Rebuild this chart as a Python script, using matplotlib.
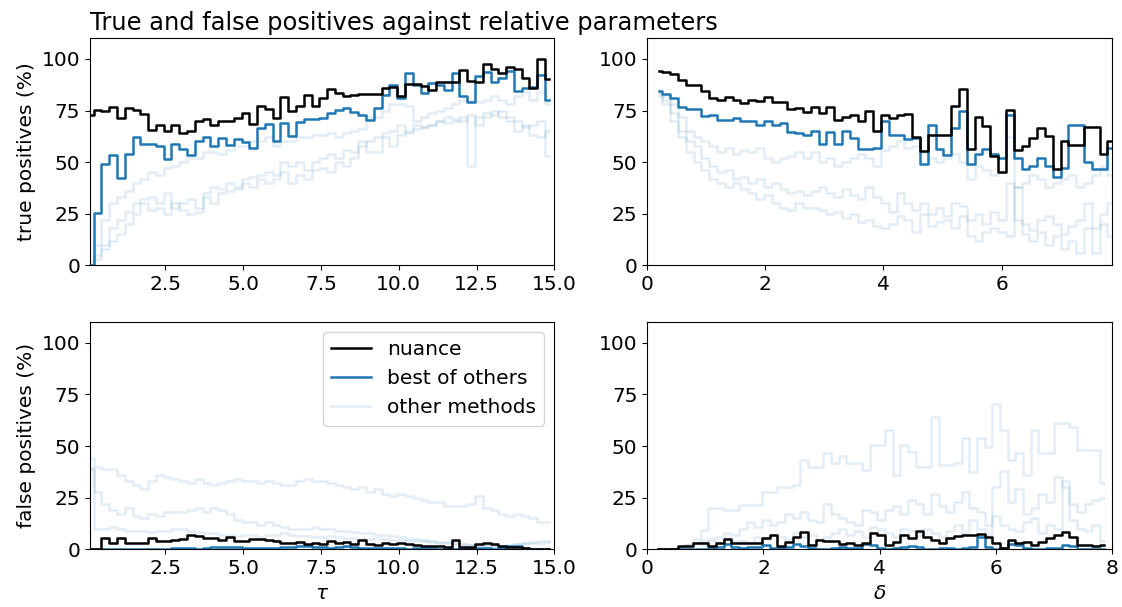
import numpy as np
import matplotlib
matplotlib.use("Agg")
import matplotlib.pyplot as plt

plt.rcParams['font.size'] = 14.5

# bin centres
tau = np.linspace(0.075, 14.825, 60)
delta = np.linspace(0.19, 7.86, 59)

# true positives vs tau (%)
tp_tau_nuance = [72.7, 75.4, 75, 76.6, 71.4, 76.2, 75.4, 73.4, 65.8, 67.9,
                 65.3, 67.9, 64.2, 65, 69.8, 70.8, 68.2, 69.8, 70.1, 71.4,
                 73.8, 68.5, 77, 75.9, 71.4, 81.4, 74.6, 77, 82.3, 77,
                 81, 85.6, 83.5, 81.9, 82.3, 83, 83, 83, 85.8, 86.3,
                 81.8, 88, 87.9, 87, 85, 88.6, 88.6, 89, 94.4, 89.5,
                 89, 97.6, 95, 93, 96, 95, 90.7, 85.8, 100, 90.2]
tp_tau_best = [0, 25.2, 49, 53.5, 42.5, 54, 62.1, 58.9, 58.6, 57.8,
               51.4, 58.9, 56.2, 53.5, 60.2, 62.1, 57.8, 61.5, 58.3, 61,
               59.9, 56.7, 66.6, 68.5, 60.2, 69, 62.6, 69.5, 71.1, 71.1,
               71.4, 73.8, 75.4, 76.2, 74.3, 73, 70.6, 76.2, 82.7, 87.5,
               81, 93, 87.5, 83.5, 88.3, 87.5, 85, 93, 81.9, 79,
               91.5, 93.6, 89, 90.7, 93.9, 84.3, 86, 86.2, 92.3, 80.3]
tp_tau_others = [
    [2, 10, 22, 30, 33, 36, 40, 42, 45, 44,
     47, 48, 50, 52, 52, 55, 55, 54, 56, 58,
     58, 60, 60, 62, 58, 60, 60, 62, 62, 63,
     63, 64, 62, 64, 65, 66, 72, 72, 75, 78,
     78, 77, 70, 72, 74, 75, 76, 78, 80, 80,
     79, 80, 82, 80, 78, 82, 84, 80, 84, 78],
    [0, 5, 10, 18, 22, 26, 30, 32, 33, 30,
     35, 28, 30, 32, 28, 35, 38, 37, 40, 38,
     42, 43, 44, 45, 44, 50, 48, 50, 46, 50,
     52, 54, 52, 56, 55, 58, 60, 62, 64, 65,
     68, 64, 66, 67, 68, 70, 69, 70, 72, 48,
     72, 74, 73, 75, 72, 70, 67, 68, 70, 53],
    [0, 3, 8, 12, 15, 20, 25, 30, 27, 28,
     25, 30, 27, 25, 26, 33, 30, 35, 36, 37,
     40, 38, 42, 40, 42, 45, 40, 44, 42, 46,
     47, 45, 50, 48, 52, 60, 55, 55, 62, 58,
     63, 65, 68, 67, 68, 70, 72, 71, 70, 73,
     68, 72, 75, 72, 70, 65, 68, 63, 62, 65],
]

# true positives vs delta (%)
tp_delta_nuance = [93.9, 93.6, 92.6, 90, 87.5, 87.2, 84.3, 81, 80.3, 81.4,
                   80.3, 78.7, 80.3, 79.5, 81.4, 79.1, 79.1, 75.9, 76.2, 74.3,
                   76.6, 73.8, 76.6, 70.6, 71.7, 72.7, 70.1, 75, 65, 73,
                   71.4, 72.7, 73.5, 62, 55.4, 63.1, 63.1, 63.1, 77, 85.6,
                   56.2, 71.7, 67.4, 53, 45, 75.4, 55.7, 57.8, 61.8, 66.6,
                   62.6, 46.5, 60.2, 58.3, 58.3, 66.9, 66.9, 53.8, 60.2]
tp_delta_best = [84.6, 83, 81, 76.6, 75.9, 75.9, 72.2, 73, 70.6, 70.6,
                 71.4, 70.1, 70.1, 67.9, 70.1, 67.9, 69, 64.7, 64.2, 63,
                 65.2, 58.9, 64.7, 58.9, 64.9, 61.8, 56.2, 56.2, 57, 69.8,
                 63, 63, 61, 61.8, 49.3, 68.2, 56.2, 53.5, 66.6, 74.9,
                 48.9, 53.8, 56.2, 53.8, 52.2, 73, 52.2, 46.5, 48.2, 52.2,
                 48.2, 42.9, 47, 67.9, 67.9, 50, 46.5, 46.5, 57]
tp_delta_others = [
    [84, 82, 78, 72, 65, 62, 60, 58, 55, 57,
     54, 56, 55, 57, 52, 50, 52, 53, 55, 52,
     55, 50, 52, 48, 50, 52, 54, 52, 48, 56,
     58, 60, 57, 58, 55, 52, 50, 52, 54, 50,
     42, 48, 46, 44, 45, 62, 38, 40, 44, 42,
     38, 40, 42, 44, 38, 40, 44, 48, 44],
    [83, 80, 74, 65, 60, 58, 52, 48, 45, 46,
     42, 43, 40, 42, 38, 40, 37, 35, 36, 34,
     36, 38, 35, 33, 37, 34, 32, 38, 33, 30,
     26, 35, 30, 27, 30, 25, 28, 24, 30, 29,
     22, 25, 20, 26, 22, 40, 22, 20, 17, 22,
     24, 20, 15, 19, 22, 30, 18, 25, 30],
    [82, 78, 70, 62, 55, 50, 46, 42, 40, 38,
     40, 37, 35, 32, 34, 30, 28, 27, 30, 28,
     28, 27, 25, 26, 23, 25, 21, 22, 19, 18,
     20, 24, 22, 16, 25, 19, 21, 22, 18, 24,
     14, 12, 16, 18, 16, 14, 38, 15, 12, 16,
     10, 14, 8, 12, 6, 18, 6, 20, 14],
]

# false positives vs tau (%)
fp_tau_nuance = [0, 0, 5.3, 3, 5.3, 3, 3, 3, 5.6, 4,
                 4, 4.5, 5, 7, 6.5, 5.6, 5.6, 4.5, 6, 4,
                 4, 5, 5, 4.5, 4, 3.2, 3.2, 3.5, 2.5, 3,
                 2.5, 4, 3, 3.5, 2.5, 4.5, 2.5, 2, 3, 2.5,
                 3, 2.5, 2, 1.8, 1.5, 1.5, 1.2, 4.5, 1.3, 1.3,
                 2.8, 3.2, 2.5, 1.5, 1.2, 1, 0.8, 0, 0, 0]
fp_tau_best = [0, 0, 0, 0, 0, 0, 0, 0, 0, 0.3,
               0.3, 0.5, 0.5, 0.5, 0.3, 0.5, 1, 1, 1, 1,
               0.8, 0.5, 0.5, 0.5, 0.8, 1, 1.2, 1.5, 1.5, 1.2,
               1, 0.8, 1.2, 1.5, 1, 0.8, 0.5, 0.5, 0.8, 0.5,
               0.5, 0.3, 0.5, 0.8, 0.5, 0.3, 0.5, 0.3, 0.5, 0.5,
               0.8, 0.5, 0.3, 0.5, 1.5, 1.5, 0.8, 0, 0, 0]
fp_tau_others = [
    [44, 40, 39, 39, 36, 33, 31, 29, 33, 36,
     35, 34, 33, 32, 34, 32, 31, 32, 33, 34,
     33, 33, 32, 33, 32, 31, 31, 33, 34, 33,
     33, 32, 31, 30, 29, 30, 28, 29, 27, 26,
     27, 26, 25, 24, 23, 23, 21, 21, 21, 22,
     26, 20, 19, 17, 16, 17, 16, 15, 13, 13],
    [39, 28, 22, 19, 17, 20, 16, 15, 17, 16,
     18, 18, 18, 19, 20, 18, 20, 19, 17, 14,
     13, 13, 12, 13, 12, 11, 10, 10, 10, 11,
     10, 10, 9, 9, 8.5, 8, 8, 7, 7, 6.5,
     6, 5, 5, 4.5, 4, 3.7, 3.5, 3, 2.5, 2,
     2, 1.5, 1.3, 1.2, 1.3, 2.5, 3, 3, 3, 3.5],
    [39, 10, 10, 11, 10, 9, 9, 9, 8.5, 9,
     9, 10, 10, 9, 8.5, 8, 8, 7, 7, 6.5,
     7, 7, 6, 7, 7, 8, 7, 6.5, 6.5, 6,
     6, 6.5, 6, 5.5, 5.5, 5, 5, 5.3, 5, 4.5,
     4.5, 4, 4, 3.8, 3.5, 3.3, 3, 2.5, 2.5, 2,
     2, 2, 1.5, 1.5, 2, 2.5, 3, 3.5, 4, 4],
]

# false positives vs delta (%)
fp_delta_nuance = [0, 0, 0, 1.8, 1.8, 2.9, 2.9, 1.6, 3.2, 5,
                   3, 3, 3.3, 3.3, 5.6, 7, 1.6, 3.7, 6, 8.5,
                   2, 4.5, 4, 4, 2.5, 3.2, 2, 2.9, 7.7, 7,
                   2, 3.7, 7, 5.3, 8.9, 6, 4.5, 2.9, 5.3, 6.5,
                   7, 7, 7.5, 6, 3, 0.5, 4.5, 3, 3.7, 2,
                   3.7, 5.3, 7, 8.5, 6, 2, 2, 1.8, 2]
fp_delta_best = [0, 0, 0, 0, 0, 0, 0, 0.5, 1, 2.5,
                 1, 0.5, 1, 1, 2, 0.5, 0.5, 1, 2.5, 1.5,
                 0.5, 0, 0, 0.5, 1, 0.5, 0.5, 2.5, 2, 0.5,
                 0, 0.5, 1, 1.5, 1, 0, 0, 0.5, 0.5, 0,
                 0.5, 1, 6, 1, 0, 0.5, 2.5, 2, 0.5, 0,
                 0, 0.5, 0.5, 2, 1.5, 0, 0, 0, 0]
fp_delta_others = [
    [0, 0, 0.5, 1, 2, 5, 9.4, 19.8, 19.8, 19,
     19, 21.5, 21.5, 21.5, 28, 28, 30.3, 30.3, 31, 43.2,
     40, 40, 46.5, 42, 45, 42, 42, 38.4, 50.5, 50.5,
     57.7, 36, 50.5, 47, 40, 40, 64, 40.8, 40.8, 42,
     53.7, 37.6, 53.7, 49.7, 70.6, 57.7, 43.5, 46.5, 36, 57.7,
     46.5, 46.5, 61, 61, 59, 48, 48, 48, 32],
    [0, 0, 0, 1, 2, 3, 4, 5, 6, 8,
     7, 10, 13, 11, 14, 12, 13, 17, 15, 18,
     14, 13, 22, 17, 15, 13, 12, 19, 18, 14,
     19, 21, 17, 24, 22, 17, 27, 21, 18, 23,
     28, 20, 18, 12, 30, 38, 23, 29, 17, 20,
     27, 23, 35, 30, 22, 18, 22, 24, 25],
    [0, 0, 0, 0.5, 1, 3, 2, 4, 3, 5,
     4, 4, 3, 6, 5, 7, 6, 5, 8, 6,
     7, 5, 6, 8, 10, 7, 9, 6, 11, 10,
     8, 6, 10, 9, 7, 10, 8, 6, 9, 12,
     8, 14, 10, 7, 16, 12, 10, 9, 13, 15,
     8, 12, 10, 33, 14, 10, 9, 12, 4],
]

blue = '#1f77b4'
lw = 1.8

fig, axes = plt.subplots(2, 2, figsize=(11.22, 6.07), dpi=100)
fig.subplots_adjust(left=0.08, right=0.991, bottom=0.095, top=0.937,
                    wspace=0.2, hspace=0.25)

panels = [
    (axes[0, 0], tau, tp_tau_nuance, tp_tau_best, tp_tau_others),
    (axes[0, 1], delta, tp_delta_nuance, tp_delta_best, tp_delta_others),
    (axes[1, 0], tau, fp_tau_nuance, fp_tau_best, fp_tau_others),
    (axes[1, 1], delta, fp_delta_nuance, fp_delta_best, fp_delta_others),
]

for ax, x, nuance, best, others in panels:
    for j, o in enumerate(others):
        ax.step(x, o, where='mid', color=blue, alpha=0.13, lw=lw,
                label='other methods' if j == 0 else None)
    ax.step(x, best, where='mid', color=blue, lw=lw, label='best of others')
    ax.step(x, nuance, where='mid', color='black', lw=lw, label='nuance')
    ax.set_ylim(0, 110)
    ax.set_yticks([0, 25, 50, 75, 100])

for ax in axes[:, 0]:
    ax.set_xlim(0.075, 15)
    ax.set_xticks([2.5, 5.0, 7.5, 10.0, 12.5, 15.0])
axes[0, 1].set_xlim(0, 7.87)
axes[0, 1].set_xticks([0, 2, 4, 6])
axes[1, 1].set_xlim(0, 8)
axes[1, 1].set_xticks([0, 2, 4, 6, 8])

axes[0, 0].set_ylabel('true positives (%)')
axes[1, 0].set_ylabel('false positives (%)')
axes[1, 0].set_xlabel(r'$\tau$')
axes[1, 1].set_xlabel(r'$\delta$')
axes[0, 0].set_title('True and false positives against relative parameters',
                     loc='left', fontsize=17.4)

h, l = axes[1, 0].get_legend_handles_labels()
order = [2, 1, 0]
axes[1, 0].legend([h[i] for i in order], [l[i] for i in order], loc='upper right')

fig.savefig('out.png', dpi=100)
